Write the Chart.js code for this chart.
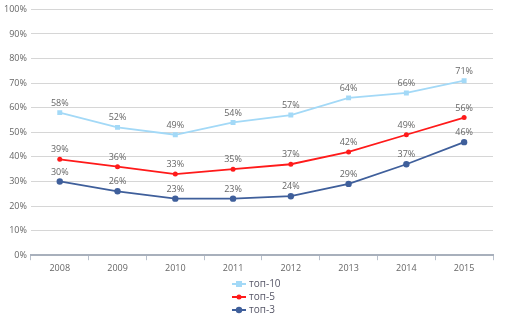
<!DOCTYPE html>
<html>
<head>
<meta charset="utf-8">
<script src="https://cdn.jsdelivr.net/npm/chart.js@4"></script>
<style>
  html, body { margin: 0; padding: 0; background: #fff; }
  #wrap { width: 508px; height: 315px; }
</style>
</head>
<body>
<div id="wrap"><canvas id="chart"></canvas></div>
<script>
// data
const years = ['2008', '2009', '2010', '2011', '2012', '2013', '2014', '2015'];
const top10 = [58, 52, 49, 54, 57, 64, 66, 71];
const top5 = [39, 36, 33, 35, 37, 42, 49, 56];
const top3 = [30, 26, 23, 23, 24, 29, 37, 46];
const seriesNames = ['топ-10', 'топ-5', 'топ-3'];

const font = "'Open Sans', 'DejaVu Sans', sans-serif";

// value labels above each point
const valueLabels = {
  id: 'valueLabels',
  afterDatasetsDraw(chart) {
    const ctx = chart.ctx;
    ctx.save();
    ctx.font = '9px ' + font;
    ctx.fillStyle = '#666';
    ctx.textAlign = 'center';
    ctx.textBaseline = 'bottom';
    chart.data.datasets.forEach((ds, i) => {
      chart.getDatasetMeta(i).data.forEach((pt, j) => {
        ctx.fillText(ds.data[j] + '%', pt.x, pt.y - 5);
      });
    });
    ctx.restore();
  }
};

// vertical legend under the chart
const stackedLegend = {
  id: 'stackedLegend',
  afterDraw(chart) {
    const ctx = chart.ctx;
    ctx.save();
    ctx.font = '10px ' + font;
    ctx.textBaseline = 'middle';
    const x0 = 232;
    chart.data.datasets.forEach((ds, i) => {
      const y = 284 + i * 13;
      ctx.strokeStyle = ds.borderColor;
      ctx.lineWidth = 2;
      ctx.beginPath();
      ctx.moveTo(x0, y);
      ctx.lineTo(x0 + 14, y);
      ctx.stroke();
      ctx.fillStyle = ds.borderColor;
      if (ds.pointStyle === 'rect') {
        ctx.fillRect(x0 + 4, y - 3, 6, 6);
      } else {
        ctx.beginPath();
        ctx.arc(x0 + 7, y, ds.pointRadius, 0, Math.PI * 2);
        ctx.fill();
      }
      ctx.fillStyle = '#556';
      ctx.fillText(ds.label, x0 + 17, y);
    });
    ctx.restore();
  }
};

new Chart(document.getElementById('chart'), {
  type: 'line',
  data: {
    labels: years,
    datasets: [
      { label: seriesNames[0], data: top10, borderColor: '#a3d9f7', backgroundColor: '#a3d9f7',
        borderWidth: 1.8, pointStyle: 'rect', pointRadius: 3.5, pointBorderWidth: 0, tension: 0 },
      { label: seriesNames[1], data: top5, borderColor: '#ff1a1a', backgroundColor: '#ff1a1a',
        borderWidth: 1.8, pointStyle: 'circle', pointRadius: 2.5, pointBorderWidth: 0, tension: 0 },
      { label: seriesNames[2], data: top3, borderColor: '#3f5f9b', backgroundColor: '#3f5f9b',
        borderWidth: 1.8, pointStyle: 'circle', pointRadius: 3.2, pointBorderWidth: 0, tension: 0 }
    ]
  },
  options: {
    responsive: true,
    maintainAspectRatio: false,
    animation: false,
    layout: { padding: { top: 8, right: 15, bottom: 38, left: 0 } },
    plugins: {
      legend: { display: false },
      tooltip: { enabled: false }
    },
    scales: {
      x: {
        offset: true,
        grid: { display: true, drawOnChartArea: false, drawTicks: true, tickLength: 5,
                offset: true, color: '#b8c0cc' },
        border: { display: true, color: '#a8b0bc', width: 2 },
        ticks: { color: '#666', font: { size: 9, family: font }, padding: 3 }
      },
      y: {
        min: 0,
        max: 100,
        ticks: { stepSize: 10, color: '#666', font: { size: 9, family: font }, padding: 4,
                 callback: v => v + '%' },
        grid: { color: '#d6d6d6', drawTicks: false },
        border: { display: false }
      }
    }
  },
  plugins: [valueLabels, stackedLegend]
});
</script>
</body>
</html>
